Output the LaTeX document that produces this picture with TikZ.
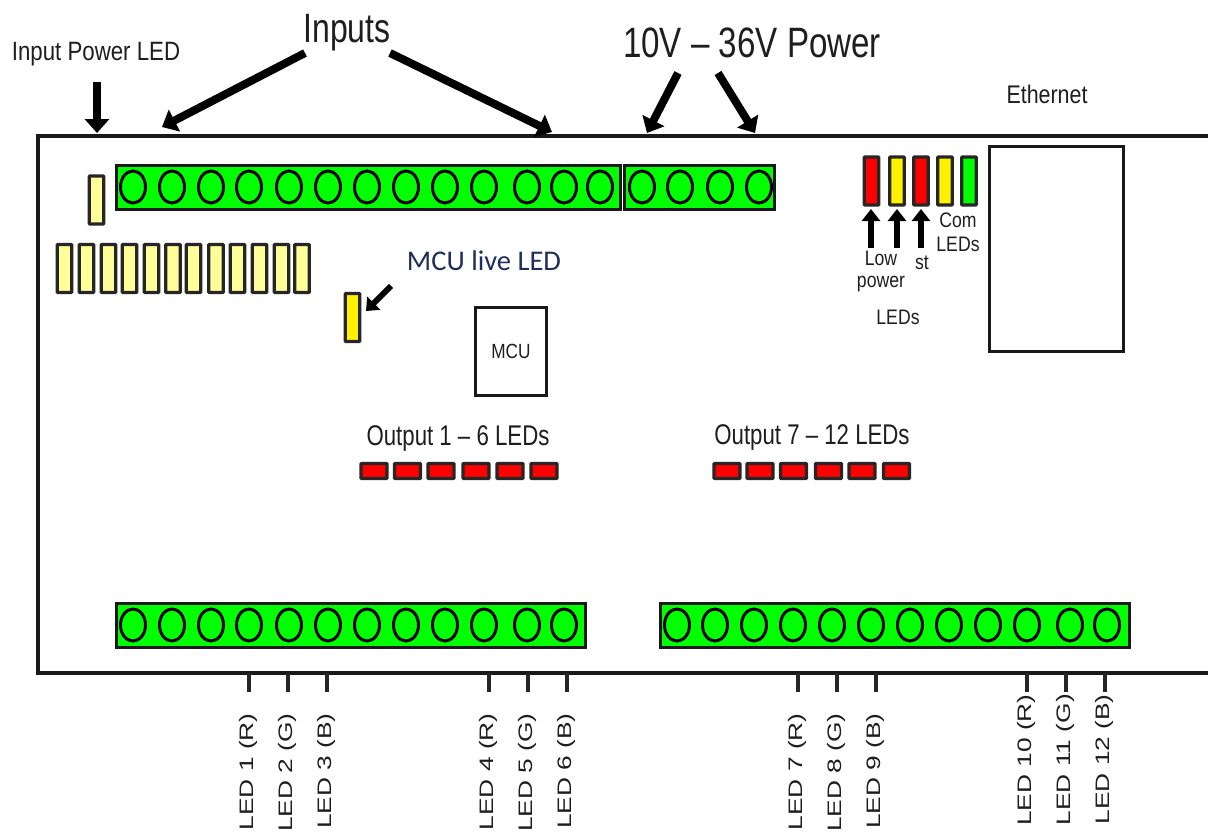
\documentclass[tikz,border=0pt]{standalone}
\usepackage{fontspec}
\setmainfont{Liberation Sans}
\newfontfamily\narrowf[FakeStretch=0.78]{Liberation Sans}
\newfontfamily\narrowb[FakeStretch=0.84]{Liberation Sans}
\newfontfamily\wideF[FakeStretch=1.35]{Liberation Sans}
\newfontfamily\calf{Carlito}
\usetikzlibrary{arrows.meta}
\usetikzlibrary{shapes.geometric}
\definecolor{ledgreen}{RGB}{0,255,0}
\definecolor{ledpale}{RGB}{255,255,153}
\definecolor{navy}{RGB}{31,45,90}
\definecolor{inkg}{RGB}{30,30,30}
\tikzset{
  x=1pt,y=-1pt,
  strip/.style={draw=black!90,line width=3pt,fill=ledgreen,rectangle,inner sep=0,minimum height=44pt},
  hole/.style={draw=black,line width=3pt,fill=ledgreen,ellipse,inner sep=0,minimum width=25pt,minimum height=32pt},
  vled/.style={draw=black!85,line width=3.4pt,rounded corners=.8pt,rectangle,inner sep=0,minimum width=14.5pt,minimum height=48pt},
  hled/.style={draw=black!85,line width=3.4pt,rounded corners=.8pt,fill=red,rectangle,inner sep=0,minimum width=26pt,minimum height=15pt},
  plainbox/.style={draw=black!90,line width=3.2pt,fill=white,rectangle,inner sep=0},
  bigarrow/.style={draw=black,line width=8pt,-{Triangle[length=14pt,width=24pt]}},
  midarrow/.style={draw=black,line width=5.5pt,-{Triangle[length=12pt,width=18pt]}},
  tick/.style={draw=black!85,line width=3.5pt},
  lab/.style={inner sep=0,text=inkg,align=center},
  pin/.style={lab,rotate=90,anchor=east,font=\wideF\fontsize{19.5}{21}\selectfont},
}
\begin{document}
\begin{tikzpicture}
\useasboundingbox (0,0) rectangle (1208,835);
% board
\draw[black!90,line width=3.2pt] (1208,136) -- (38,136) -- (38,673) -- (1208,673);
% terminal strips
\node[strip,minimum width=504pt] (sInput) at (368.5,187.5) {};
\node[strip,minimum width=150pt] (sPower) at (699.5,187.5) {};
\node[strip,minimum width=469pt] (sOutA) at (351,625) {};
\node[strip,minimum width=469pt] (sOutB) at (895,625) {};
\foreach \x [count=\i] in {133,172,211,249,289,328,367,406,445,484,527,564,600}
  \node[hole] (hi\i) at (\x,187) {};
\foreach \x [count=\i] in {642,680,720,759}
  \node[hole] (hp\i) at (\x,187) {};
\foreach \x [count=\i] in {133,172,211,249,289,328,367,406,445,484,527,564}
  \node[hole] (ha\i) at (\x,625) {};
\foreach \x [count=\i] in {677,715,754,793,832,871,910,949,988,1027,1070,1107}
  \node[hole] (hb\i) at (\x,625) {};
% pale LEDs
\node[vled,fill=ledpale] (ledPower) at (96.5,200) {};
\foreach \x [count=\i] in {64.5,86.5,108.5,129.5,151.5,173,193.5,216,237.5,259.5,281.5,302}
  \node[vled,fill=ledpale] (ledIn\i) at (\x,268.5) {};
\node[vled,fill=yellow] (ledLive) at (352.5,317.5) {};
% status LEDs
\node[vled,fill=red] (st1) at (871.5,181) {};
\node[vled,fill=yellow] (st2) at (897,181) {};
\node[vled,fill=red] (st3) at (921,181) {};
\node[vled,fill=yellow] (st4) at (945,181) {};
\node[vled,fill=ledgreen] (st5) at (969,181) {};
% chips
\node[plainbox,minimum width=134pt,minimum height=205pt] (eth) at (1056.5,249) {};
\node[plainbox,minimum width=71pt,minimum height=88pt,font=\narrowb\fontsize{20.5}{22}\selectfont,text=inkg] (mcu) at (511,351.5) {MCU};
% output LEDs
\foreach \x [count=\i] in {374,407.5,441,476,510,544}
  \node[hled] (oa\i) at (\x,471) {};
\foreach \x [count=\i] in {727,760,793.5,828.5,862,896.5}
  \node[hled] (ob\i) at (\x,471) {};
% labels
\node[lab,font=\narrowb\fontsize{26.5}{28}\selectfont] (lPower) at (96,54) {Input Power LED};
\node[lab,font=\narrowf\fontsize{41}{44}\selectfont] (lInputs) at (347,33) {Inputs};
\node[lab,font=\narrowf\fontsize{42.5}{44}\selectfont] (lVolt) at (752,43) {10V – 36V Power};
\node[lab,font=\narrowb\fontsize{25.5}{28}\selectfont] (lEth) at (1047,94) {Ethernet};
\node[lab,font=\calf\fontsize{28.5}{30}\selectfont,text=navy] (lLive) at (484,261) {MCU live LED};
\node[lab,font=\narrowf\fontsize{28.5}{30}\selectfont] (lOutA) at (458,439) {Output 1 – 6 LEDs};
\node[lab,font=\narrowf\fontsize{28.5}{30}\selectfont] (lOutB) at (812,438) {Output 7 – 12 LEDs};
\node[lab,font=\narrowb\fontsize{21}{22}\selectfont] (lCom) at (958,220) {Com};
\node[lab,font=\narrowb\fontsize{21}{22}\selectfont] (lComL) at (958,244) {LEDs};
\node[lab,font=\narrowb\fontsize{21}{22}\selectfont] (lLow) at (881,258) {Low};
\node[lab,font=\narrowb\fontsize{21}{22}\selectfont] (lLowP) at (881,284) {power};
\node[lab,font=\narrowb\fontsize{21}{22}\selectfont] (lLowL) at (898,317) {LEDs};
\node[lab,font=\narrowb\fontsize{21}{22}\selectfont] (lSt) at (922,263) {st};
% arrow ends
\coordinate (c1) at (97,82);  \coordinate (c2) at (97,133);
\coordinate (c3) at (305,53); \coordinate (c4) at (162,127);
\coordinate (c5) at (390,53); \coordinate (c6) at (552,132);
\coordinate (c7) at (678,73); \coordinate (c8) at (647,133);
\coordinate (c9) at (718,73); \coordinate (c10) at (755,133);
\coordinate (c11) at (391,286); \coordinate (c12) at (366,311);
\coordinate (a1) at (871,248); \coordinate (b1) at (871,209);
\coordinate (a2) at (897,248); \coordinate (b2) at (897,209);
\coordinate (a3) at (921,248); \coordinate (b3) at (921,209);
\draw[bigarrow] (c1) -- (c2);
\draw[bigarrow] (c3) -- (c4);
\draw[bigarrow] (c5) -- (c6);
\draw[bigarrow] (c7) -- (c8);
\draw[bigarrow] (c9) -- (c10);
\draw[draw=black,line width=6pt,-{Triangle[length=11pt,width=18pt]}] (c11) -- (c12);
\foreach \i in {1,2,3}
  \draw[midarrow] (a\i) -- (b\i);
% pins
\foreach \x/\t/\tp [count=\i] in {
  249/LED 1 (R)/713,288/LED 2 (G)/713,327/LED 3 (B)/713,
  489/LED 4 (R)/713,528/LED 5 (G)/713,567/LED 6 (B)/713,
  798/LED 7 (R)/713,837/LED 8 (G)/713,876/LED 9 (B)/713,
  1027/LED 10 (R)/694,1066/LED 11 (G)/694,1105/LED 12 (B)/694}{
  \coordinate (pa\i) at (\x,673);
  \coordinate (pb\i) at (\x,692);
  \draw[tick] (pa\i) -- (pb\i);
  \node[pin] (pl\i) at (\x-0.5,\tp) {\t};
}
\end{tikzpicture}
\end{document}
